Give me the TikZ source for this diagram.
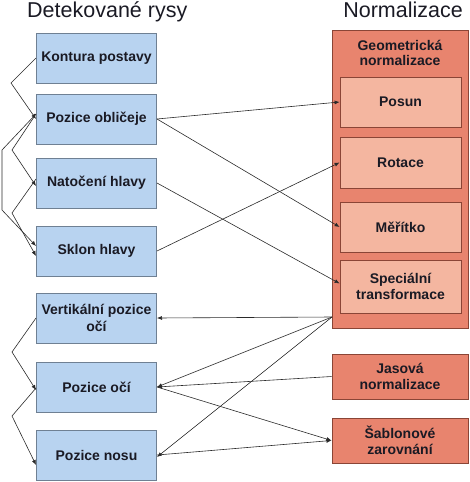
\documentclass[tikz,border=0pt]{standalone}
\usepackage{fontspec}
\setmainfont{Liberation Sans}
\usetikzlibrary{arrows.meta,calc}
\definecolor{bfill}{HTML}{B8D3F0}
\definecolor{bdraw}{HTML}{6F8093}
\definecolor{sfill}{HTML}{E8846E}
\definecolor{sdraw}{HTML}{8A4536}
\definecolor{ifill}{HTML}{F4B6A0}
\definecolor{idraw}{HTML}{8A4536}
\definecolor{txt}{HTML}{1A1A24}
\definecolor{conn}{HTML}{2A2A2A}
\tikzset{
  feat/.style={draw=bdraw,fill=bfill,line width=1pt,minimum width=120pt,minimum height=50pt,inner sep=2pt,
    align=center,text=txt,font=\fontsize{14}{17}\selectfont\bfseries},
  outer/.style={draw=sdraw,fill=sfill,line width=1pt,inner sep=0pt},
  norm/.style={draw=sdraw,fill=sfill,line width=1pt,minimum width=136pt,minimum height=45pt,inner sep=2pt,
    align=center,text=txt,font=\fontsize{14}{16}\selectfont\bfseries},
  inner/.style={draw=idraw,fill=ifill,line width=0.8pt,minimum width=121pt,inner sep=2pt,
    align=center,text=txt,font=\fontsize{14}{16}\selectfont\bfseries},
  heading/.style={text=txt,font=\fontsize{21.5}{24}\selectfont,inner sep=0pt},
  lbl/.style={text=txt,font=\fontsize{14}{15}\selectfont\bfseries,align=center,inner sep=0pt},
  conn/.style={draw=conn,line width=0.6pt,-{Latex[length=5pt,width=4pt]}},
}
\begin{document}
\begin{tikzpicture}[x=1pt,y=-1pt]
\useasboundingbox (0,0) rectangle (469,482);
% headings
\node[heading,anchor=base west] (h1) at (27,17) {Detekované rysy};
\node[heading,anchor=base east] (h2) at (463,17) {Normalizace};
% left feature boxes
\node[feat] (k1) at (96.5,58) {Kontura postavy};
\node[feat] (k2) at (96.5,119) {Pozice obličeje};
\node[feat] (k3) at (96.5,183) {Natočení hlavy};
\node[feat] (k4) at (96.5,251) {Sklon hlavy};
\node[feat] (k5) at (96.5,318) {Vertikální pozice\\očí};
\node[feat] (k6) at (96.5,387) {Pozice očí};
\node[feat] (k7) at (96.5,455) {Pozice nosu};
% right side
\path[outer] (332,30) rectangle (468,328);
\node[lbl] (geo) at (400,53) {Geometrická\\normalizace};
\node[inner,minimum height=50pt] (n1) at (400.5,102) {Posun};
\node[inner,minimum height=51pt] (n2) at (400.5,162.5) {Rotace};
\node[inner,minimum height=50pt] (n3) at (400.5,227) {Měřítko};
\node[inner,minimum height=53pt] (n4) at (400.5,286.5) {Speciální\\transformace};
\node[norm] (j) at (400,376.5) {Jasová\\normalizace};
\node[norm] (s) at (400,440.5) {Šablonové\\zarovnání};
\coordinate (gs) at (332,317);
% connectors to the right
\draw[conn] (k2.east) -- (n1.west);
\draw[conn] (k2.east) -- (n3.west);
\draw[conn] (k3.east) -- ([yshift=3pt]n4.west);
\draw[conn] (k4.east) -- (n2.west);
\draw[conn] (gs) -- (k5.east);
\draw[conn] (gs) -- (k6.east);
\draw[conn] (gs) -- ([yshift=-2pt]k7.east);
\draw[conn] (j.west) -- (k6.east);
\draw[conn] (k6.east) -- (s.west);
\draw[conn] (k7.east) -- (s.west);
% connectors on the left
\coordinate (a1) at (11,83);
\coordinate (a2) at (12,150);
\coordinate (a3) at (2,150);
\coordinate (a4) at (2,210);
\coordinate (a5) at (12,213);
\coordinate (a6) at (12,352);
\coordinate (a7) at (12,416);
\draw[conn] (k1.west) -- (a1) -- (k2.west);
\draw[conn] ([yshift=5pt]k2.west) -- (a2) -- ([yshift=-3pt]k3.west);
\draw[conn] ([yshift=5pt]k2.west) -- (a3) -- (a4) -- ([yshift=5pt]k4.west);
\draw[conn] ([yshift=4pt]k3.west) -- (a5) -- ([yshift=-5pt]k4.west);
\draw[conn] (k5.west) -- (a6) -- ([yshift=-3pt]k6.west);
\draw[conn] ([yshift=-1pt]k6.west) -- (a7) -- ([yshift=-10pt]k7.west);
\end{tikzpicture}
\end{document}
